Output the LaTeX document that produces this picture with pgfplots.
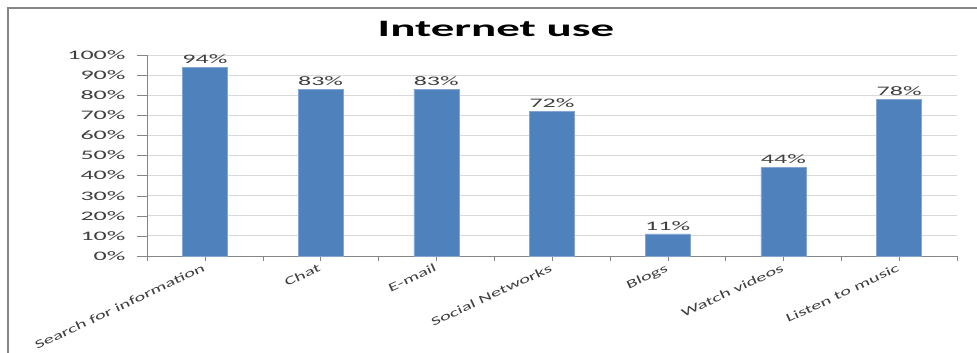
\documentclass[border=0pt]{standalone}
\usepackage{pgfplots}
\pgfplotsset{compat=1.18}
\usepackage{fontspec}
\setmainfont{Carlito}[FakeStretch=2.0]
\newfontfamily\labfont{Carlito}[FakeStretch=1.7]
\definecolor{barblue}{RGB}{79,129,189}
\definecolor{txt}{RGB}{64,64,64}
\definecolor{gridc}{RGB}{217,217,217}
\definecolor{axc}{RGB}{134,134,134}
\begin{document}
\begin{tikzpicture}[x=1pt,y=1pt]
\useasboundingbox (0,0) rectangle (977,353);
\fill[white] (0,0) rectangle (977,353);
\draw[axc, line width=1.5pt] (8,-5) -- (8,345) -- (985,345);
\node[font=\bfseries\fontsize{23.5}{27}\selectfont, anchor=base] at (496,316) {Internet use};
\begin{axis}[
  at={(147pt,97pt)}, anchor=south west,
  scale only axis, width=810pt, height=201pt,
  ybar, bar width=45pt,
  xmin=-0.5, xmax=6.5, ymin=0, ymax=100,
  clip=false,
  axis x line*=bottom, axis y line*=left,
  axis line style={axc},
  tick align=outside,
  major tick length=10pt,
  ytick={0,10,...,100},
  yticklabel={\pgfmathprintnumber{\tick}\%},
  /pgf/number format/assume math mode=true,
  yticklabel style={font=\fontsize{13}{15}\selectfont, text=txt, xshift=-8pt},
  ytick style={axc},
  xtick={-0.5,0.5,...,6.5},
  xticklabels={},
  xtick style={axc, /pgfplots/major tick length=5pt},
  extra x ticks={0,1,2,3,4,5,6},
  extra x tick labels={Search for information, Chat, E-mail, Social Networks, Blogs, Watch videos, Listen to music},
  extra x tick style={major tick length=0pt, xmajorgrids=false,
    tick label style={rotate=25, anchor=north east, yshift=-2pt, xshift=-2pt, font=\labfont\fontsize{12}{14}\selectfont, text=txt}},
  ymajorgrids, xmajorgrids=false,
  grid style={gridc, line width=0.8pt},
  nodes near coords={\pgfmathprintnumber{\pgfplotspointmeta}\%},
  every node near coord/.append style={font=\fontsize{13}{15}\selectfont, text=txt},
]
\addplot[fill=barblue, draw=barblue!70!white] coordinates {(0,94) (1,83) (2,83) (3,72) (4,11) (5,44) (6,78)};
\end{axis}
\end{tikzpicture}
\end{document}
